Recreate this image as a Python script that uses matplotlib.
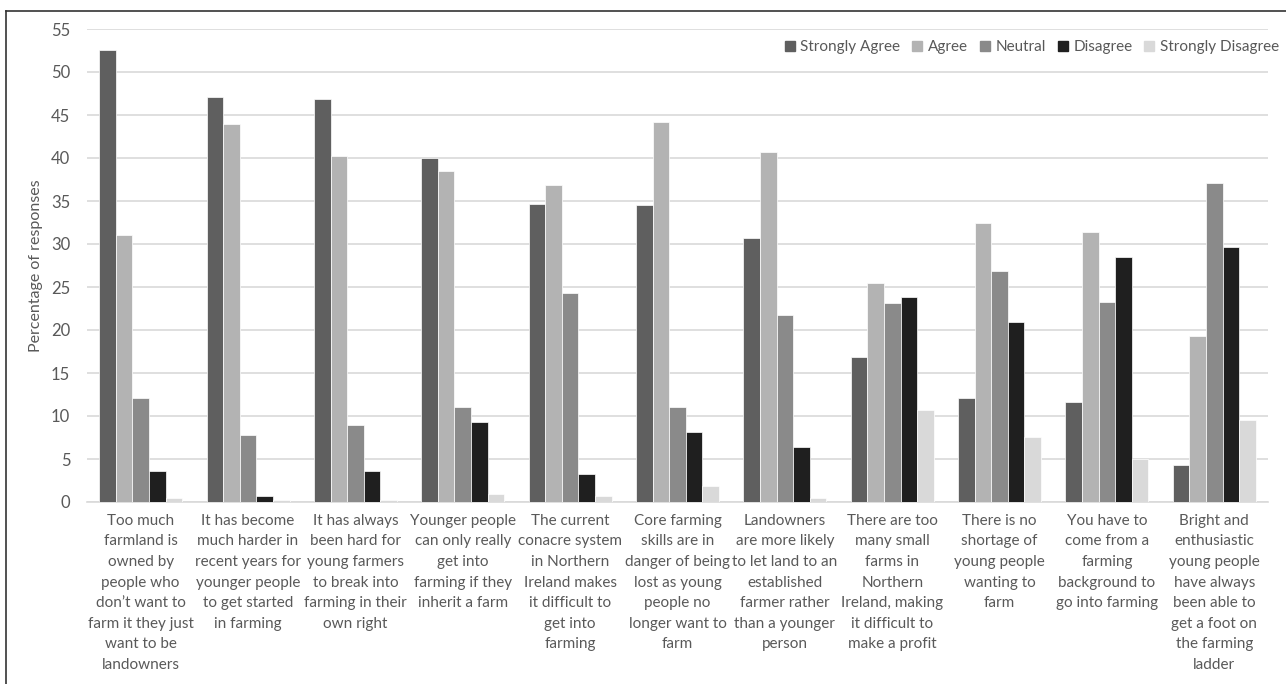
import numpy as np
import matplotlib.pyplot as plt
from matplotlib.lines import Line2D

categories = [
    "Too much\nfarmland is\nowned by\npeople who\ndon\u2019t want to\nfarm it they just\nwant to be\nlandowners",
    "It has become\nmuch harder in\nrecent years for\nyounger people\nto get started\nin farming",
    "It has always\nbeen hard for\nyoung farmers\nto break into\nfarming in their\nown right",
    "Younger people\ncan only really\nget into\nfarming if they\ninherit a farm",
    "The current\nconacre system\nin Northern\nIreland makes\nit difficult to\nget into\nfarming",
    "Core farming\nskills are in\ndanger of being\nlost as young\npeople no\nlonger want to\nfarm",
    "Landowners\nare more likely\nto let land to an\nestablished\nfarmer rather\nthan a younger\nperson",
    "There are too\nmany small\nfarms in\nNorthern\nIreland, making\nit difficult to\nmake a profit",
    "There is no\nshortage of\nyoung people\nwanting to\nfarm",
    "You have to\ncome from a\nfarming\nbackground to\ngo into farming",
    "Bright and\nenthusiastic\nyoung people\nhave always\nbeen able to\nget a foot on\nthe farming\nladder",
]

series_names = ["Strongly Agree", "Agree", "Neutral", "Disagree", "Strongly Disagree"]
strongly_agree = [52.6, 47.1, 46.9, 40.0, 34.7, 34.5, 30.7, 16.9, 12.1, 11.6, 4.3]
agree = [31.1, 44.0, 40.2, 38.5, 36.9, 44.2, 40.7, 25.5, 32.4, 31.4, 19.3]
neutral = [12.1, 7.8, 9.0, 11.1, 24.3, 11.1, 21.7, 23.1, 26.9, 23.3, 37.1]
disagree = [3.6, 0.7, 3.6, 9.3, 3.3, 8.1, 6.4, 23.8, 20.9, 28.5, 29.7]
strongly_disagree = [0.5, 0.2, 0.2, 0.9, 0.7, 1.9, 0.5, 10.7, 7.6, 5.0, 9.5]

colors = ["#5f5f5f", "#b3b3b3", "#8a8a8a", "#1f1f1f", "#d9d9d9"]
text_color = "#595959"

plt.rcParams['font.family'] = ['Lato', 'DejaVu Sans']

fig = plt.figure(figsize=(12.86, 6.84), dpi=100)
ax = fig.add_axes([87 / 1286, 1 - 502 / 684, (1268 - 87) / 1286, (502 - 29) / 684])

x = np.arange(len(categories))
width = 0.1545
all_series = [strongly_agree, agree, neutral, disagree, strongly_disagree]
for i, (vals, name, c) in enumerate(zip(all_series, series_names, colors)):
    ax.bar(x + (i - 2) * width, vals, width, color=c, edgecolor='white',
           linewidth=0.5, label=name, zorder=3)

ax.set_xlim(-0.5, len(categories) - 0.5)
ax.set_ylim(0, 55)
ax.set_yticks(np.arange(0, 56, 5))
ax.yaxis.grid(True, color="#d9d9d9", linewidth=1.2, zorder=0)
ax.set_axisbelow(True)
for s in ['top', 'right', 'left']:
    ax.spines[s].set_visible(False)
ax.spines['bottom'].set_color("#d9d9d9")
ax.spines['bottom'].set_linewidth(1.2)
ax.tick_params(axis='both', length=0, colors=text_color)
ax.tick_params(axis='y', pad=12, labelsize=12)
ax.set_xticks(x)
ax.set_xticklabels([])
# category labels drawn as text so the line spacing can be set
for xi, lab in zip(x, categories):
    ax.text(xi, -0.025, lab, transform=ax.get_xaxis_transform(), ha='center',
            va='top', fontsize=11, linespacing=1.6, color=text_color)
ax.set_ylabel("Percentage of responses", color=text_color, fontsize=11.5, labelpad=6)

handles = [Line2D([0], [0], marker='s', linestyle='none', markersize=7,
                  markerfacecolor=c, markeredgecolor=c) for c in colors]
fig.legend(handles, series_names, loc='center right', ncol=5,
           bbox_to_anchor=(1279 / 1286, 1 - 47 / 684), frameon=False,
           borderpad=0, borderaxespad=0,
           handletextpad=0.3, columnspacing=0.7, fontsize=11,
           labelcolor=text_color, handlelength=0.8)

# frame lines on top and left of the picture
fig.add_artist(Line2D([6 / 1286, 1], [1 - 11 / 684, 1 - 11 / 684], color="#333333", linewidth=1.2))
fig.add_artist(Line2D([6 / 1286, 6 / 1286], [0, 1 - 11 / 684], color="#333333", linewidth=1.2))

fig.savefig("out.png", dpi=100, facecolor='white')
